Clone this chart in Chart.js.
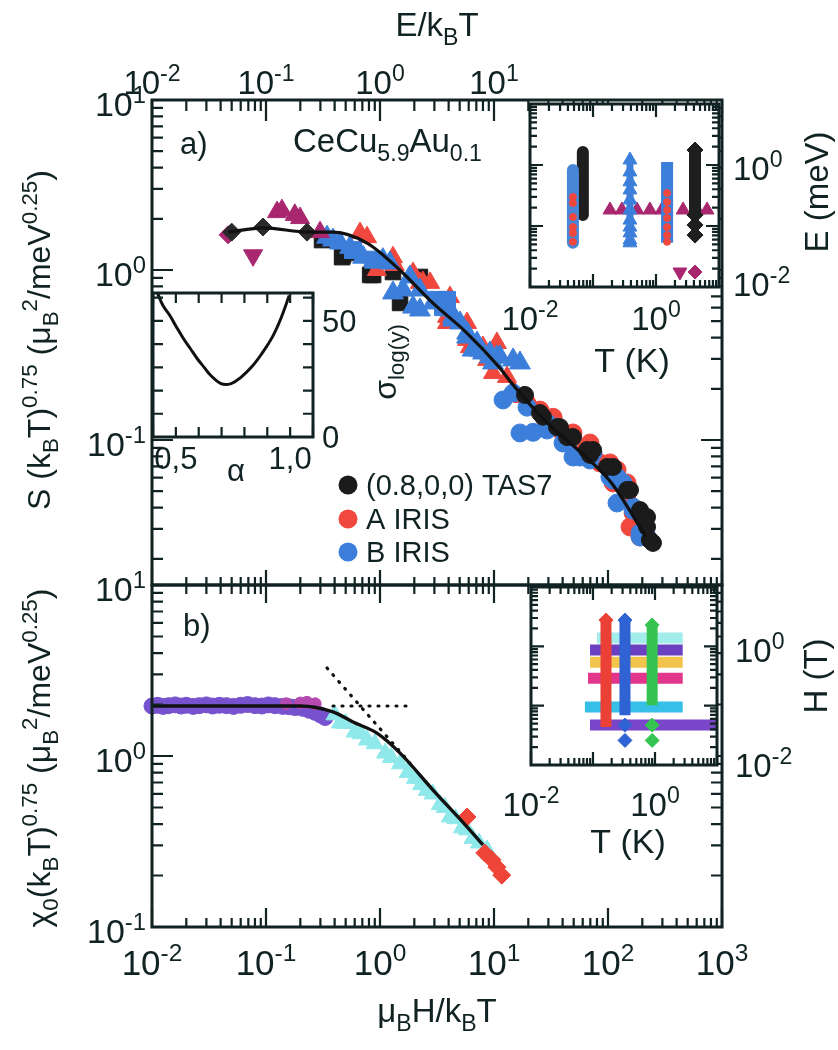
<!DOCTYPE html>
<html><head><meta charset="utf-8">
<script src="https://cdn.jsdelivr.net/npm/chart.js@4.4.1/dist/chart.umd.min.js"></script>
<style>
html,body{margin:0;padding:0;background:#fff;}
#wrap{position:relative;width:838px;height:1050px;overflow:hidden;background:#fff;}
#wrap canvas{position:absolute;left:0;top:0;}
</style></head><body>
<div id="wrap">
<canvas id="cA" width="838" height="1050"></canvas>
<canvas id="cB" width="838" height="1050"></canvas>
<canvas id="cAl" width="838" height="1050"></canvas>
<canvas id="cIA" width="838" height="1050"></canvas>
<canvas id="cIB" width="838" height="1050"></canvas>
</div>
<script>
// ===================== DATA =====================
// Panel a) S(kBT)^0.75 vs E/kBT
const fitA_x = [0.047, 0.094, 0.237, 0.39, 0.77, 1.49, 2.9, 5.7, 11, 14.3, 28, 55, 107, 214];
const fitA_y = [1.67, 1.77, 1.67, 1.67, 1.44, 1.00, 0.64, 0.43, 0.27, 0.216, 0.13, 0.087, 0.056, 0.027];
const tasDia_x = [0.050, 0.094, 0.229];
const tasDia_y = [1.67, 1.79, 1.67];
const tasSq_x = [0.31, 0.465, 0.473, 0.514, 0.82, 0.85, 0.87, 1.30, 1.50, 2.24];
const tasSq_y = [1.50, 1.19, 1.22, 1.26, 0.935, 0.96, 0.935, 0.973, 0.64, 0.91];
const tasCirc_x = [18.7, 25.3, 26.9, 35.7, 37.9, 43.7, 49.3, 65.5, 69.5, 74, 98, 111, 147, 156, 191, 203, 220, 220, 233, 248];
const tasCirc_y = [0.184, 0.144, 0.137, 0.119, 0.119, 0.104, 0.104, 0.0873, 0.0817, 0.0873, 0.0694, 0.0694, 0.0508, 0.0508, 0.0387, 0.0352, 0.0352, 0.0308, 0.0258, 0.0248];
const magUp_x = [0.125, 0.138, 0.179, 0.199, 0.298];
const magUp_y = [2.19, 2.25, 2.11, 2.02, 1.67];
const magDown_x = [0.077];
const magDown_y = [1.22];
const magDia_x = [0.0465];
const magDia_y = [1.61];
const irisATri_x = [0.668, 0.77, 0.94, 1.30, 1.35, 1.95, 2.24, 2.38, 2.75, 3.87, 3.87, 4.11, 5.8, 5.8, 6.15, 8.0, 8.0, 8.7, 9.8, 10.6, 13.0, 14.7, 17.9, 22];
const irisATri_y = [1.65, 1.56, 1.00, 1.19, 1.07, 0.96, 0.84, 0.849, 0.84, 0.53, 0.488, 0.693, 0.488, 0.388, 0.352, 0.325, 0.352, 0.296, 0.248, 0.372, 0.235, 0.197, 0.179, 0.156];
const irisACirc_x = [25.3, 33, 37.9, 49.3, 49.3, 69.5, 85, 104, 120, 111, 147, 147, 156, 166, 191];
const irisACirc_y = [0.150, 0.136, 0.1145, 0.091, 0.11, 0.096, 0.0733, 0.0733, 0.0667, 0.0559, 0.0444, 0.0559, 0.0308, 0.0372, 0.0269];
const irisBTri_x = [0.343, 0.387, 0.446, 0.546, 0.71, 1.06, 1.22, 1.30, 1.59, 1.83, 1.95, 2.24, 2.24, 2.92, 4.11, 4.37, 4.37, 5.04, 5.8, 5.8, 6.5, 7.1, 7.5, 8.0, 9.2, 9.2, 9.8, 10.6, 11.3, 14.7, 16.9];
const irisBTri_y = [1.56, 1.50, 1.44, 1.36, 1.19, 1.15, 1.10, 0.733, 0.763, 0.91, 0.605, 0.582, 0.763, 0.64, 0.582, 0.53, 0.508, 0.488, 0.426, 0.403, 0.338, 0.372, 0.338, 0.325, 0.308, 0.325, 0.284, 0.308, 0.308, 0.296, 0.284];
const irisBSq_x = [0.58, 0.87, 3.16, 3.57, 3.87];
const irisBSq_y = [1.31, 1.15, 0.667, 0.605, 0.667];
const irisBCirc_x = [12.0, 14.7, 16.9, 19.5, 22, 29.2, 29.2, 35.7, 40.3, 46, 49.3, 56.8, 69.5, 74, 104, 111, 120, 135, 120, 166, 166, 191, 191, 220];
const irisBCirc_y = [0.172, 0.189, 0.11, 0.156, 0.111, 0.1145, 0.126, 0.119, 0.096, 0.1, 0.0794, 0.0794, 0.0763, 0.084, 0.0605, 0.0582, 0.0605, 0.0559, 0.0426, 0.0403, 0.0387, 0.0284, 0.0269, 0.0269];

// inset (alpha, sigma_log(y))
const alpha_x = [0.421, 0.443, 0.473, 0.503, 0.533, 0.563, 0.593, 0.622, 0.652, 0.697, 0.742, 0.787, 0.832, 0.876, 0.922, 0.959, 0.996];
const sigma_y = [61.7, 56.7, 52.4, 47.3, 42.4, 38.1, 33.8, 30.2, 26.6, 23.0, 23.0, 25.9, 30.2, 35.9, 43.0, 50.9, 60.9];

// inset a) T (K) vs E (meV)
const iaColT = [0.048, 0.069, 1.5, 4.16];
const iaColEtop = [0.83, 1.63, 1.12, 1.76];
const iaColEbot = [0.053, 0.151, 0.053, 0.151];
const iaTri_T = [0.386, 0.386, 0.386, 0.386, 0.386, 0.386, 0.386, 0.386, 0.386, 0.386, 0.386];
const iaTri_E = [1.21, 0.77, 0.53, 0.39, 0.267, 0.183, 0.125, 0.096, 0.077, 0.059, 0.053];
const iaDia_T = [4.16, 4.16, 4.16, 4.16];
const iaDia_E = [1.76, 0.151, 0.104, 0.071];
const iaRed_T = [0.048, 0.048, 0.048, 0.048, 0.048, 0.048, 1.5, 1.5, 1.5, 1.5, 1.5, 1.5, 1.5];
const iaRed_E = [0.30, 0.238, 0.141, 0.096, 0.077, 0.055, 0.348, 0.247, 0.183, 0.135, 0.096, 0.071, 0.055];
const iaMag_T = [0.186, 0.288, 0.5, 0.80, 1.24, 2.69, 4.48, 6.46];
const iaMag_E = [0.183, 0.183, 0.183, 0.183, 0.183, 0.183, 0.183, 0.183];
const iaMagDown_T = [2.4], iaMagDown_E = [0.0176];
const iaMagDia_T = [4.16], iaMagDia_E = [0.0176];

// Panel b) chi0(kBT)^0.75 vs muB H / kBT
const fitB_x = [0.01, 0.108, 0.199, 0.387, 0.58, 0.94, 1.5, 2.92, 5.8, 8.0];
const fitB_y = [1.96, 1.96, 1.96, 1.81, 1.58, 1.36, 1.04, 0.632, 0.385, 0.302];
const dotH_x = [0.387, 1.95], dotH_y = [1.96, 1.96];
const dotD_x = [0.343, 1.83], dotD_y = [3.27, 0.91];
const bPurple_x = [0.0100, 0.0112, 0.0125, 0.014, 0.016, 0.018, 0.020, 0.023, 0.026, 0.030, 0.034, 0.039, 0.045, 0.052, 0.060, 0.069, 0.080, 0.092, 0.105, 0.12, 0.14, 0.16, 0.18, 0.21, 0.24, 0.27, 0.30, 0.33];
const bPurple_y = [1.96, 1.98, 1.95, 1.97, 1.99, 1.96, 1.98, 1.95, 1.97, 1.99, 1.96, 1.98, 1.97, 1.95, 1.98, 2.00, 1.97, 1.96, 1.99, 1.97, 1.95, 1.94, 1.92, 1.90, 1.85, 1.80, 1.74, 1.68];
const bMag_x = [0.15, 0.20, 0.229, 0.27];
const bMag_y = [2.02, 2.04, 2.06, 2.02];
const bCyan_x = [0.40, 0.446, 0.50, 0.60, 0.68, 0.77, 0.90, 1.11, 1.25, 1.50, 1.75, 2.03, 2.3, 2.58, 2.9, 3.36, 3.7, 4.11, 4.6, 5.24, 5.8, 6.5, 7.4, 8.7, 9.0];
const bCyan_y = [1.74, 1.56, 1.55, 1.38, 1.35, 1.24, 1.18, 1.04, 0.98, 0.90, 0.80, 0.74, 0.68, 0.63, 0.60, 0.52, 0.50, 0.44, 0.43, 0.38, 0.37, 0.33, 0.31, 0.282, 0.27];
const bRed_x = [5.8, 8.3, 9.6, 10.6, 11.7];
const bRed_y = [0.44, 0.271, 0.247, 0.224, 0.201];

// inset b) T (K) vs H (T)
const ibBarH = [1.38, 0.87, 0.54, 0.29, 0.0946, 0.047];
const ibBarTmin = [0.116, 0.0895, 0.0895, 0.083, 0.074, 0.0895];
const ibBarTmax = [2.8, 2.8, 2.8, 2.8, 2.8, 10];
const ibColT = [0.162, 0.328, 0.9];
const ibColHtop = [2.77, 2.77, 2.29];
const ibColHbot = [0.0436, 0.069, 0.102];
const ibDotT = [0.328, 0.328, 0.9, 0.9];
const ibDotH = [0.047, 0.026, 0.047, 0.026];

// ===================== HELPERS =====================
const FONT = '"Liberation Sans", Arial, Helvetica, sans-serif';
const INK = '#102222';
const C_BLACK = '#1b1b1b', C_RED = '#f0483e', C_BLUE = '#3c7fdb', C_MAG = '#a8276f';

function pts(xs, ys) { return xs.map((x, i) => ({x: x, y: ys[i]})); }
function mark(xs, ys, color, style, r, extra) {
  return Object.assign({data: pts(xs, ys), pointStyle: style, pointRadius: r, backgroundColor: color,
    borderColor: color, borderWidth: 1, showLine: false, clip: false}, extra || {});
}
function line(xs, ys, color, w, extra) {
  return Object.assign({data: pts(xs, ys), showLine: true, borderColor: color, backgroundColor: color,
    borderWidth: w, pointRadius: 0, fill: false, clip: false}, extra || {});
}
function rich(ctx, parts, x, y, size, align, rot, color) {
  ctx.save(); ctx.translate(x, y); if (rot) ctx.rotate(rot);
  ctx.fillStyle = color || INK; ctx.textBaseline = 'alphabetic'; ctx.textAlign = 'left';
  const segs = parts.map(p => {
    const t = typeof p === 'string' ? p : p[0]; const m = typeof p === 'string' ? '' : p[1];
    const s = m ? size * 0.7 : size; ctx.font = s + 'px ' + FONT;
    return {t, m, s, w: ctx.measureText(t).width};
  });
  const W = segs.reduce((a, b) => a + b.w, 0);
  let cx = align === 'center' ? -W / 2 : align === 'right' ? -W : 0;
  const base = size * 0.36;
  for (const g of segs) {
    ctx.font = g.s + 'px ' + FONT;
    const dy = g.m === 'sub' ? size * 0.27 : g.m === 'sup' ? -size * 0.40 : 0;
    ctx.fillText(g.t, cx, base + dy); cx += g.w;
  }
  ctx.restore();
}
function pow10(ctx, e, x, y, size, align) { rich(ctx, ['10', [String(e), 'sup']], x, y, size, align); }
function logTicks(min, max) {
  const out = []; const k0 = Math.floor(Math.log10(min)) - 1, k1 = Math.ceil(Math.log10(max));
  for (let k = k0; k <= k1; k++) for (let m = 1; m <= 9; m++) {
    const v = m * Math.pow(10, k); if (v >= min * 0.9999 && v <= max * 1.0001) out.push({v, major: m === 1});
  }
  return out;
}
function frame(chart, o) {
  const ctx = chart.ctx, a = chart.chartArea, xs = chart.scales.x, ys = chart.scales.y;
  const xt = o.xTicks || logTicks(xs.min, xs.max), yt = o.yTicks || logTicks(ys.min, ys.max);
  ctx.save(); ctx.strokeStyle = INK; ctx.lineWidth = o.tw || 2.2; ctx.beginPath();
  for (const t of xt) {
    const p = xs.getPixelForValue(t.v);
    if (o.top) { const L = t.major ? o.top[0] : o.top[1]; ctx.moveTo(p, a.top); ctx.lineTo(p, a.top + L); }
    if (o.bottom) { const L = t.major ? o.bottom[0] : o.bottom[1]; ctx.moveTo(p, a.bottom); ctx.lineTo(p, a.bottom - L); }
  }
  for (const t of yt) {
    const p = ys.getPixelForValue(t.v);
    if (o.left) { const L = t.major ? o.left[0] : o.left[1]; ctx.moveTo(a.left, p); ctx.lineTo(a.left + L, p); }
    if (o.right) { const L = t.major ? o.right[0] : o.right[1]; ctx.moveTo(a.right, p); ctx.lineTo(a.right - L, p); }
  }
  ctx.stroke();
  ctx.lineWidth = o.fw || 3; ctx.strokeRect(a.left, a.top, a.right - a.left, a.bottom - a.top);
  ctx.restore();
}
function whiteBg(chart) {
  const a = chart.chartArea, ctx = chart.ctx; ctx.save(); ctx.fillStyle = '#fff';
  ctx.fillRect(a.left, a.top, a.right - a.left, a.bottom - a.top); ctx.restore();
}
function makeChart(id, area, xOpt, yOpt, datasets, plug) {
  return new Chart(document.getElementById(id), {
    type: 'scatter', data: {datasets},
    options: {
      responsive: false, maintainAspectRatio: false, animation: false, devicePixelRatio: 1,
      layout: {padding: {left: area[0], top: area[1], right: 838 - area[2], bottom: 1050 - area[3]}},
      plugins: {legend: {display: false}, tooltip: {enabled: false}},
      scales: {x: Object.assign({display: false}, xOpt), y: Object.assign({display: false}, yOpt)}
    },
    plugins: [plug]
  });
}
const logX = {type: 'logarithmic', min: 0.01, max: 1000};
const mono = {cubicInterpolationMode: 'monotone'};

// ===================== PANEL a =====================
makeChart('cA', [152, 100, 722, 585], logX, {type: 'logarithmic', min: 0.01403, max: 10}, [
  line(fitA_x, fitA_y, '#111', 3.2, mono),
  mark(tasDia_x, tasDia_y, '#2a2a2a', 'rectRot', 9),
  mark(magDia_x, magDia_y, C_MAG, 'rectRot', 9),
  mark(magUp_x, magUp_y, C_MAG, 'triangle', 11),
  mark(magDown_x, magDown_y, C_MAG, 'triangle', 11, {rotation: 180}),
  mark(tasCirc_x, tasCirc_y, C_BLACK, 'circle', 8.5),
  mark(irisBCirc_x, irisBCirc_y, C_BLUE, 'circle', 9),
  mark(irisACirc_x, irisACirc_y, C_RED, 'circle', 9),
  mark(irisBTri_x, irisBTri_y, C_BLUE, 'triangle', 12),
  mark(irisBSq_x, irisBSq_y, C_BLUE, 'rect', 12),
  mark(irisATri_x, irisATri_y, C_RED, 'triangle', 11),
  mark(tasSq_x, tasSq_y, C_BLACK, 'rect', 11)
], {
  id: 'pa',
  afterDraw(chart) {
    const ctx = chart.ctx, xs = chart.scales.x, ys = chart.scales.y;
    frame(chart, {top: [21, 11], bottom: [15, 8], left: [21, 11], right: [21, 11]});
    [-2, -1, 0, 1].forEach(e => pow10(ctx, e, xs.getPixelForValue(Math.pow(10, e)), 82, 33, 'center'));
    [1, 0, -1].forEach(e => pow10(ctx, e, 146, ys.getPixelForValue(Math.pow(10, e)) + 4, 34, 'right'));
    rich(ctx, ['E/k', ['B', 'sub'], 'T'], 437, 24, 33, 'center');
    rich(ctx, ['S (k', ['B', 'sub'], 'T)', ['0.75', 'sup'], ' (μ', ['B', 'sub'], ['2', 'sup'], '/meV', ['0.25', 'sup'], ')'],
      38, 340, 32, 'center', -Math.PI / 2);
    rich(ctx, ['a)'], 180, 143, 31, 'left');
    rich(ctx, ['CeCu', ['5.9', 'sub'], 'Au', ['0.1', 'sub']], 293, 140, 33, 'left');
    const leg = [['(0.8,0,0) TAS7', C_BLACK, 485], ['A IRIS', C_RED, 519], ['B IRIS', C_BLUE, 552]];
    for (const [t, c, y] of leg) {
      ctx.save(); ctx.fillStyle = c; ctx.beginPath(); ctx.arc(348, y, 9.5, 0, 2 * Math.PI); ctx.fill(); ctx.restore();
      rich(ctx, [t], 366, y, 29, 'left');
    }
  }
});

// ===================== PANEL b =====================
makeChart('cB', [152, 585, 722, 927], logX, {type: 'logarithmic', min: 0.1, max: 10}, [
  line(dotH_x, dotH_y, '#111', 3.2, {borderDash: [1, 8], borderCapStyle: 'round'}),
  line(dotD_x, dotD_y, '#111', 3.2, {borderDash: [1, 8], borderCapStyle: 'round'}),
  line(fitB_x, fitB_y, '#111', 3.4, mono),
  mark(bRed_x, bRed_y, '#ee4538', 'rectRot', 9),
  mark(bCyan_x, bCyan_y, '#8fe8ea', 'triangle', 10),
  mark(bMag_x, bMag_y, '#b44ab0', 'circle', 6),
  mark(bPurple_x, bPurple_y, '#7652cf', 'circle', 8)
], {
  id: 'pb',
  afterDraw(chart) {
    const ctx = chart.ctx, xs = chart.scales.x, ys = chart.scales.y;
    frame(chart, {top: [18, 9], bottom: [19, 9], left: [21, 11], right: [21, 11]});
    [-2, -1, 0, 1, 2, 3].forEach(e => pow10(ctx, e, xs.getPixelForValue(Math.pow(10, e)), 962, 35, 'center'));
    [1, 0, -1].forEach(e => pow10(ctx, e, 146, ys.getPixelForValue(Math.pow(10, e)) + 4, 34, 'right'));
    rich(ctx, ['μ', ['B', 'sub'], 'H/k', ['B', 'sub'], 'T'], 437, 1010, 33, 'center');
    rich(ctx, ['χ', ['0', 'sub'], '(k', ['B', 'sub'], 'T)', ['0.75', 'sup'], ' (μ', ['B', 'sub'], ['2', 'sup'], '/meV', ['0.25', 'sup'], ')'],
      38, 758, 32, 'center', -Math.PI / 2);
    rich(ctx, ['b)'], 183, 625, 31, 'left');
  }
});

// ===================== INSET alpha =====================
const alTicksX = [0.4, 0.5, 0.6, 0.7, 0.8, 0.9, 1.0, 1.1].map(v => ({v, major: false}));
const alTicksY = [0, 10, 20, 30, 40, 50, 60].map(v => ({v, major: false}));
makeChart('cAl', [153, 293, 313, 437], {type: 'linear', min: 0.4, max: 1.1}, {type: 'linear', min: 0, max: 62}, [
  line(alpha_x, sigma_y, '#111', 3, {tension: 0.4})
], {
  id: 'pal',
  beforeDraw(chart) { whiteBg(chart); },
  afterDraw(chart) {
    const ctx = chart.ctx, xs = chart.scales.x, ys = chart.scales.y;
    frame(chart, {xTicks: alTicksX, yTicks: alTicksY, top: [10, 10], bottom: [10, 10], left: [10, 10], right: [10, 10]});
    rich(ctx, ['0,5'], xs.getPixelForValue(0.5), 458, 31, 'center');
    rich(ctx, ['1,0'], xs.getPixelForValue(1.0), 458, 31, 'center');
    rich(ctx, ['50'], 322, ys.getPixelForValue(50), 31, 'left');
    rich(ctx, ['0'], 322, ys.getPixelForValue(0), 31, 'left');
    rich(ctx, ['σ', ['log(y)', 'sub']], 384, 362, 32, 'center', -Math.PI / 2);
    rich(ctx, ['α'], 236, 470, 31, 'center');
  }
});

// ===================== INSET a =====================
const iaSets = [
  mark(iaRed_T, iaRed_E, C_RED, 'circle', 3.5),
  mark(iaTri_T, iaTri_E, C_BLUE, 'triangle', 8),
  line([iaColT[0], iaColT[0]], [iaColEtop[0], iaColEbot[0]], '#4a86d8', 12, {borderCapStyle: 'round'}),
  line([iaColT[2], iaColT[2]], [iaColEtop[2], iaColEbot[2]], C_BLUE, 12, {borderCapStyle: 'butt'}),
  line([iaTri_T[0], iaTri_T[0]], [iaTri_E[0], iaTri_E[10]], C_BLUE, 7),
  line([iaColT[1], iaColT[1]], [iaColEtop[1], iaColEbot[1]], '#1e1e1e', 12, {borderCapStyle: 'round'}),
  mark(iaDia_T, iaDia_E, '#1e1e1e', 'rectRot', 8),
  line([iaColT[3], iaColT[3]], [iaColEtop[3], iaColEbot[3]], '#1e1e1e', 12),
  mark(iaMag_T, iaMag_E, C_MAG, 'triangle', 8),
  mark(iaMagDown_T, iaMagDown_E, C_MAG, 'triangle', 8, {rotation: 180}),
  mark(iaMagDia_T, iaMagDia_E, C_MAG, 'rectRot', 7)
];
makeChart('cIA', [530, 104, 719, 287], {type: 'logarithmic', min: 0.01, max: 10}, {type: 'logarithmic', min: 0.01, max: 10}, iaSets, {
  id: 'pia',
  beforeDraw(chart) { whiteBg(chart); },
  afterDraw(chart) {
    const ctx = chart.ctx, xs = chart.scales.x, ys = chart.scales.y;
    frame(chart, {top: [13, 7], bottom: [13, 7], left: [13, 7], right: [13, 7]});
    pow10(ctx, -2, xs.getPixelForValue(0.01), 318, 33, 'center');
    pow10(ctx, 0, xs.getPixelForValue(1), 318, 33, 'center');
    pow10(ctx, 0, 733, ys.getPixelForValue(1) + 3, 33, 'left');
    pow10(ctx, -2, 733, ys.getPixelForValue(0.01) - 3, 33, 'left');
    rich(ctx, ['T (K)'], 632, 360, 34, 'center');
    rich(ctx, ['E (meV)'], 816, 192, 33, 'center', -Math.PI / 2);
  }
});

// ===================== INSET b =====================
const barColors = ['#a3ecec', '#6b41c2', '#f3c44c', '#e2358c', '#36bfe7', '#7a46c9'];
const colColors = ['#ea4035', '#2f62d2', '#35c452'];
const ibSets = [];
colColors.forEach((c, i) => {
  ibSets.push(mark([ibColT[i]], [ibColHtop[i]], c, 'rectRot', 7));
  ibSets.push(line([ibColT[i], ibColT[i]], [ibColHtop[i], ibColHbot[i]], c, 11));
});
ibSets.push(mark(ibDotT.slice(0, 2), ibDotH.slice(0, 2), colColors[1], 'rectRot', 7));
ibSets.push(mark(ibDotT.slice(2), ibDotH.slice(2), colColors[2], 'rectRot', 7));
barColors.forEach((c, i) => {
  ibSets.push(line([ibBarTmin[i], ibBarTmax[i]], [ibBarH[i], ibBarH[i]], c, 11, {borderCapStyle: 'butt'}));
});
makeChart('cIB', [531, 587, 717, 765], {type: 'logarithmic', min: 0.01, max: 10}, {type: 'logarithmic', min: 0.01, max: 10}, ibSets, {
  id: 'pib',
  beforeDraw(chart) { whiteBg(chart); },
  afterDraw(chart) {
    const ctx = chart.ctx, xs = chart.scales.x, ys = chart.scales.y;
    frame(chart, {top: [13, 7], bottom: [13, 7], left: [13, 7], right: [13, 7]});
    pow10(ctx, -2, xs.getPixelForValue(0.01), 804, 33, 'center');
    pow10(ctx, 0, xs.getPixelForValue(1), 804, 33, 'center');
    pow10(ctx, 0, 735, ys.getPixelForValue(1) + 4, 33, 'left');
    pow10(ctx, -2, 735, ys.getPixelForValue(0.01), 33, 'left');
    rich(ctx, ['T (K)'], 628, 841, 34, 'center');
    rich(ctx, ['H (T)'], 815, 676, 33, 'center', -Math.PI / 2);
  }
});
</script>
</body></html>
